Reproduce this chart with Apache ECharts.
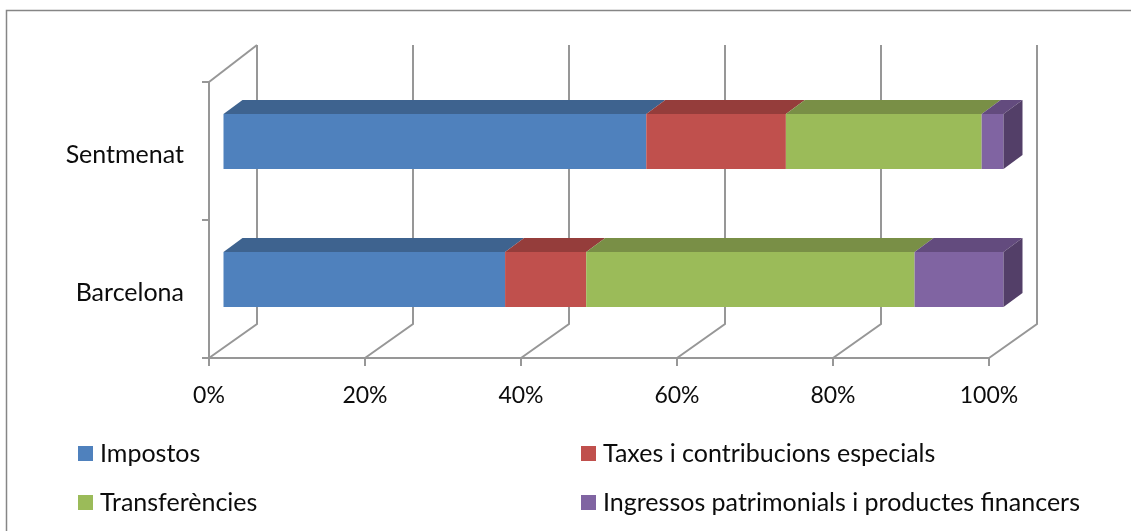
<!DOCTYPE html>
<html>
<head>
<meta charset="utf-8">
<script src="https://cdn.jsdelivr.net/npm/echarts@6/dist/echarts.min.js"></script>
<style>html,body{margin:0;padding:0;background:#fff}#c{width:1131px;height:531px}</style>
</head>
<body>
<div id="c"></div>
<script>
const categories = ['Barcelona', 'Sentmenat'];
const seriesNames = ['Impostos', 'Taxes i contribucions especials', 'Transferències', 'Ingressos patrimonials i productes financers'];
const impostos = [36.1, 54.2];
const taxes = [10.4, 17.9];
const transferencies = [42.1, 25.1];
const ingressos = [11.4, 2.8];
const xTicks = [0, 20, 40, 60, 80, 100];

const seriesValues = [impostos, taxes, transferencies, ingressos];
const faceColors = ['#4F81BD', '#C0504D', '#9BBB59', '#8064A2'];
const topColors = ['#3E638F', '#953D3B', '#798F46', '#634B7E'];
const sideColor = '#533F68';
const gridColor = '#979797';
const textColor = '#0c0c0c';
const FONT = 'Lato';
const FS = 25;
const FS_NUM = 23;
const LW = 2;

const wall = { dx: 48, dy: -34 };
const barOffset = { dx: 14.5, dy: -9.5 };
const barDepth = { dx: 19, dy: -14 };
const barHeight = 55;

function wallItem(params, api) {
  const v = api.value(0);
  const cs = params.coordSys;
  const x = api.coord([v, 0])[0];
  const bottom = cs.y + cs.height;
  const top = cs.y;
  const style = { stroke: gridColor, lineWidth: LW, fill: null };
  const pts = [[x, bottom], [x + wall.dx, bottom + wall.dy], [x + wall.dx, top + wall.dy - 3]];
  const children = [{ type: 'polyline', shape: { points: pts }, style }];
  if (v === 0) {
    children.push({ type: 'line', shape: { x1: x, y1: top, x2: x + wall.dx, y2: top + wall.dy - 3 }, style });
  }
  return { type: 'group', children };
}

function barRenderer(idx) {
  return function (params, api) {
    const p0 = api.coord([api.value(0), api.value(2)]);
    const p1 = api.coord([api.value(1), api.value(2)]);
    const x0 = p0[0] + barOffset.dx, x1 = p1[0] + barOffset.dx;
    const yT = p0[1] + barOffset.dy - barHeight / 2, yB = yT + barHeight;
    const dx = barDepth.dx, dy = barDepth.dy;
    const children = [
      { type: 'rect', shape: { x: x0, y: yT, width: x1 - x0, height: barHeight }, style: { fill: faceColors[idx] } },
      { type: 'polygon', shape: { points: [[x0, yT], [x1, yT], [x1 + dx, yT + dy], [x0 + dx, yT + dy]] }, style: { fill: topColors[idx] } }
    ];
    if (idx === seriesValues.length - 1) {
      children.push({ type: 'polygon', shape: { points: [[x1, yT], [x1 + dx, yT + dy], [x1 + dx, yB + dy], [x1, yB]] }, style: { fill: sideColor } });
    }
    return { type: 'group', children };
  };
}

const running = categories.map(() => 0);
const barSeries = seriesNames.map((name, i) => {
  const data = categories.map((c, k) => {
    const s = running[k];
    running[k] += seriesValues[i][k];
    return [s, running[k], k];
  });
  return {
    type: 'custom', name, coordinateSystem: 'cartesian2d', clip: false, z: 3 + i,
    itemStyle: { color: faceColors[i] },
    encode: { x: [0, 1], y: 2 }, data, renderItem: barRenderer(i), silent: true
  };
});

const legendPos = [[78, 441], [581, 441], [78, 490], [581, 490]];
const legends = seriesNames.map((n, i) => ({
  data: [n], left: legendPos[i][0], top: legendPos[i][1], padding: 0,
  icon: 'rect', itemWidth: 15, itemHeight: 15, itemGap: 0, selectedMode: false,
  textStyle: { fontFamily: FONT, fontSize: FS, color: textColor, padding: [3, 0, 0, 2] }
}));

const chart = echarts.init(document.getElementById('c'), null, { renderer: 'canvas' });
chart.setOption({
  animation: false,
  backgroundColor: '#fff',
  legend: legends,
  grid: { left: 209, top: 82, width: 780, height: 276, containLabel: false },
  xAxis: {
    type: 'value', min: 0, max: 100, interval: 20,
    axisLine: { show: true, lineStyle: { color: gridColor, width: LW } },
    axisTick: { show: true, length: 8, lineStyle: { color: gridColor, width: LW } },
    splitLine: { show: false },
    axisLabel: { formatter: '{value}%', fontFamily: FONT, fontSize: FS_NUM, color: textColor, margin: 26 }
  },
  yAxis: {
    type: 'category', data: categories,
    axisLine: { show: true, lineStyle: { color: gridColor, width: LW } },
    axisTick: { show: true, length: 7, lineStyle: { color: gridColor, width: LW } },
    axisLabel: { fontFamily: FONT, fontSize: FS, color: textColor, margin: 25, verticalAlign: 'top', lineHeight: 7 }
  },
  graphic: [
    { type: 'polyline', silent: true, z: 0, shape: { points: [[6.5, 531], [6.5, 10.5], [1131, 10.5]] }, style: { stroke: '#868686', lineWidth: 1.5, fill: null } }
  ],
  series: [{
    type: 'custom', coordinateSystem: 'cartesian2d', clip: false, z: 1, silent: true,
    encode: { x: 0 }, data: xTicks.map(t => [t]), renderItem: wallItem
  }].concat(barSeries)
});
</script>
</body>
</html>
